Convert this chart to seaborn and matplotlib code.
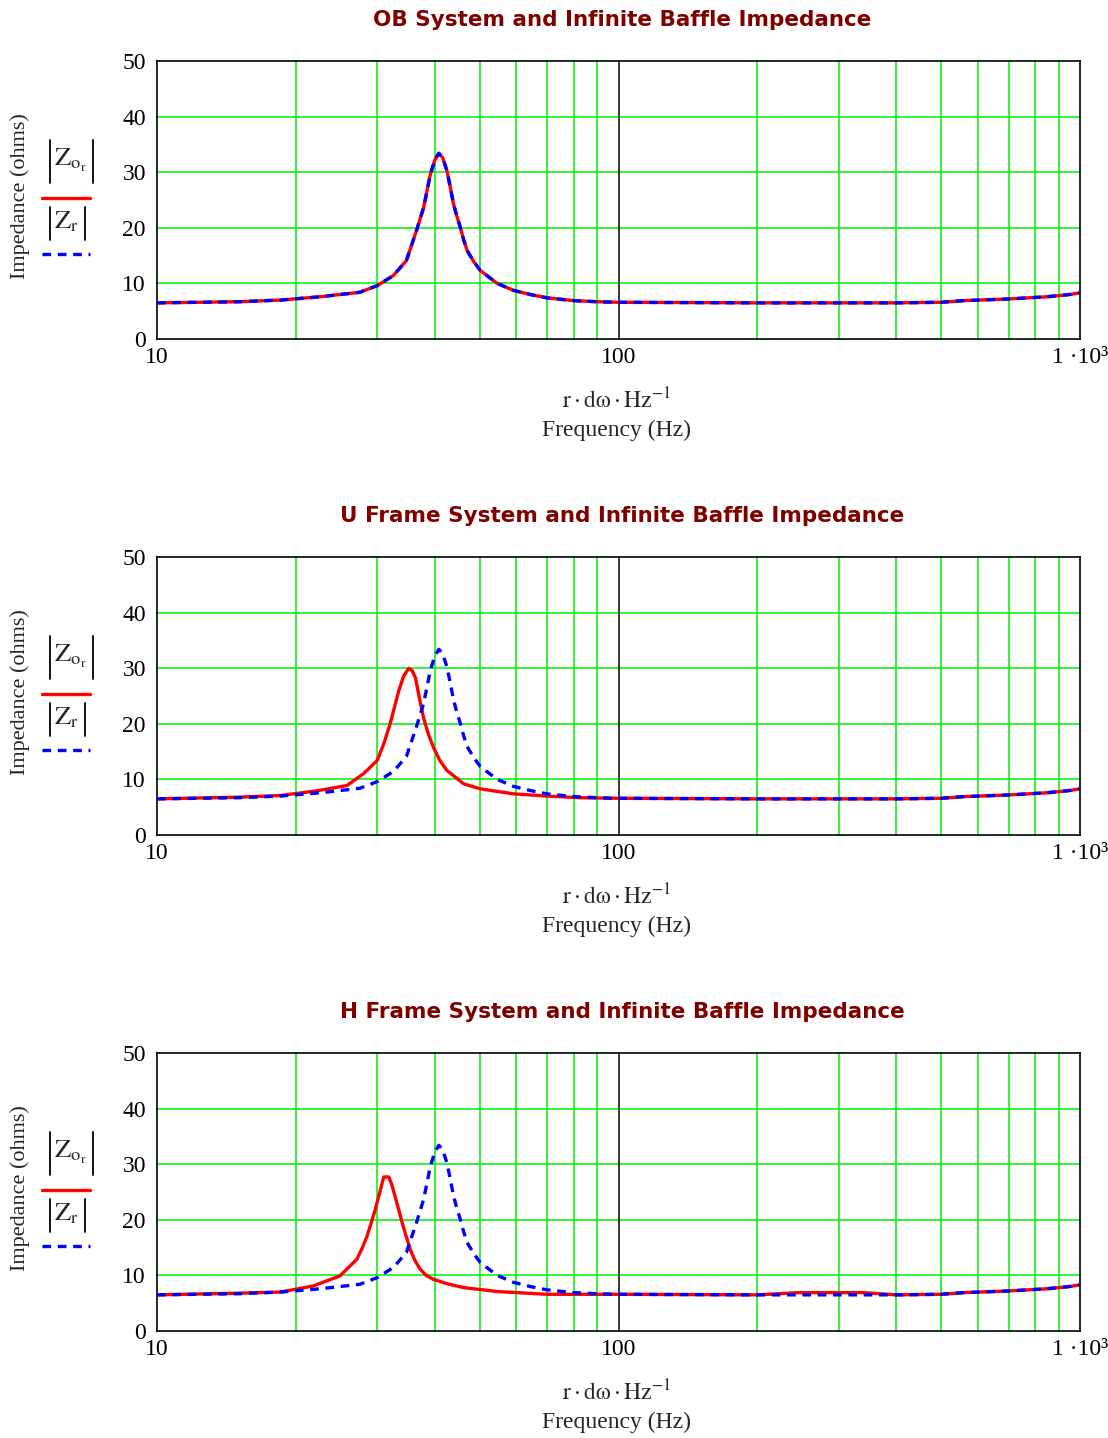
import matplotlib
matplotlib.use("Agg")
import matplotlib.pyplot as plt
import seaborn as sns
from matplotlib.lines import Line2D

# infinite baffle impedance (blue dashed, same in every panel)
f_ib = [10, 15, 18.5, 22.6, 27.5, 30, 32.5, 34.7, 36.5, 37.8, 38.5, 39.1, 40.0, 40.8, 41.6, 42.5,
        43.2, 43.9, 44.6, 45.4, 46.2, 47, 48.5, 50.2, 54.6, 59.2, 64.4, 70, 80, 90, 100, 200, 300,
        400, 500, 560, 700, 850, 950, 1000]
z_ib = [6.5, 6.7, 7.0, 7.6, 8.4, 9.6, 11.4, 14.1, 19.5, 23.6, 26.8, 29.6, 32.2, 33.4, 32.6, 30.2,
        27.3, 24.3, 22.2, 20.1, 17.8, 15.9, 14.0, 12.3, 10.0, 8.75, 8.0, 7.4, 6.9, 6.7, 6.6, 6.5, 6.5,
        6.5, 6.6, 6.9, 7.2, 7.6, 8.0, 8.3]

# OB system (red)
f_ob = [10, 15, 18.5, 22.6, 27.5, 30, 32.5, 34.7, 36.5, 37.8, 38.5, 39.1, 40.0, 40.8, 41.6, 42.5,
        43.2, 43.9, 44.6, 45.4, 46.2, 47, 48.5, 50.2, 54.6, 59.2, 64.4, 70, 80, 90, 100, 200, 300,
        400, 500, 560, 700, 850, 950, 1000]
z_ob = [6.5, 6.7, 7.0, 7.6, 8.4, 9.6, 11.4, 14.1, 19.5, 23.6, 26.8, 29.6, 32.2, 33.4, 32.6, 30.2,
        27.3, 24.3, 22.2, 20.1, 17.8, 15.9, 14.0, 12.3, 10.0, 8.75, 8.0, 7.4, 6.9, 6.7, 6.6, 6.5, 6.5,
        6.5, 6.6, 6.9, 7.2, 7.6, 8.0, 8.3]

# U frame system (red)
f_u = [10, 15, 18.5, 22, 25.8, 28, 30, 31, 32, 32.7, 33.4, 34.2, 35.1, 35.7, 36.3, 37.0, 37.8,
       38.7, 39.7, 41, 42.5, 46.2, 50.2, 59.2, 70, 82.8, 100, 200, 300, 400, 500, 560, 700, 850,
       950, 1000]
z_u = [6.5, 6.8, 7.1, 7.9, 8.9, 11.0, 13.4, 16.4, 20.0, 23.0, 25.9, 28.5, 30.0, 29.6, 28.3, 24.8,
       21.1, 18.2, 15.8, 13.4, 11.6, 9.2, 8.3, 7.4, 7.0, 6.7, 6.6, 6.5, 6.5, 6.5, 6.6, 6.9, 7.2, 7.6,
       8.0, 8.3]

# H frame system (red)
f_h = [10, 15, 18.5, 21.8, 24.9, 27.1, 27.8, 28.5, 29.1, 29.7, 30.4, 31.0, 31.8, 32.3, 32.8, 33.4,
       34.0, 34.7, 35.4, 36.2, 37.2, 38.3, 39.7, 42.5, 46.2, 54.6, 70, 100, 200, 245, 340, 400,
       500, 560, 700, 850, 950, 1000]
z_h = [6.5, 6.8, 7.0, 8.1, 9.9, 12.9, 14.8, 17.0, 19.4, 21.8, 25.0, 27.7, 27.7, 26.2, 24.2, 21.8,
       19.4, 16.9, 14.6, 12.7, 11.1, 10.0, 9.3, 8.5, 7.8, 7.1, 6.6, 6.6, 6.5, 6.9, 6.9, 6.5, 6.6,
       6.9, 7.2, 7.6, 8.0, 8.3]

titles = ["OB System and Infinite Baffle Impedance",
          "U Frame System and Infinite Baffle Impedance",
          "H Frame System and Infinite Baffle Impedance"]
red_f = [f_ob, f_u, f_h]
red_z = [z_ob, z_u, z_h]

y_ticks = [0, 10, 20, 30, 40, 50]
x_ticks = [10, 100, 1000]
x_ticklabels = ["10", "100", "1 \u00b710\u00b3"]
grid_x = [20, 30, 40, 50, 60, 70, 80, 90, 200, 300, 400, 500, 600, 700, 800, 900]

sns.set_style("white")
plt.rcParams['font.family'] = ['Liberation Serif', 'DejaVu Serif']
plt.rcParams['mathtext.fontset'] = 'stix'

W, H = 1108, 1438
fig = plt.figure(figsize=(W / 100, H / 100), dpi=100)


def fx(x):
    return x / W


def fy(y):
    return 1 - y / H


def bar(x, y0, y1, color="black", lw=1.3):
    fig.add_artist(Line2D([fx(x), fx(x)], [fy(y0), fy(y1)], color=color, lw=lw))


tops = [61, 557, 1053]
for i in range(3):
    top = tops[i]
    ax = fig.add_axes([fx(157), fy(top + 278), fx(1080) - fx(157), 278 / H])
    ax.set_xscale("log")
    ax.set_xlim(10, 1000)
    ax.set_ylim(0, 50)
    for g in grid_x:
        ax.axvline(g, color="#00ee00", lw=1.1, zorder=1)
    for g in [10, 20, 30, 40]:
        ax.axhline(g, color="#00ee00", lw=1.1, zorder=1)
    ax.axvline(100, color="black", lw=1.1, zorder=1)

    sns.lineplot(x=red_f[i], y=red_z[i], ax=ax, color="#ff0000", lw=2.4,
                 errorbar=None, zorder=3)
    sns.lineplot(x=f_ib, y=z_ib, ax=ax, color="#0000ff", lw=2.4,
                 linestyle=(0, (2.6, 2.0)), errorbar=None, zorder=4)

    ax.set_xticks(x_ticks)
    ax.set_xticklabels(x_ticklabels)
    ax.set_xticks([], minor=True)
    ax.set_yticks(y_ticks)
    ax.tick_params(axis="both", length=0, labelsize=17, colors="black")
    ax.tick_params(axis="y", pad=8)
    ax.tick_params(axis="x", pad=6)
    for s in ax.spines.values():
        s.set_color("black")
        s.set_linewidth(1.2)
    ax.set_xlabel("")
    ax.set_ylabel("")

    fig.text(fx(622), fy(top - 41), titles[i], ha="center", va="center",
             fontsize=15.5, fontweight="bold", color="#800000", family="DejaVu Sans")
    fig.text(fx(20), fy(top + 135), "Impedance (ohms)", rotation=90,
             ha="center", va="center", fontsize=16)

    # legend-like labels at the left, Mathcad style
    bar(50, top + 79, top + 122)
    bar(93, top + 79, top + 122)
    fig.text(fx(54), fy(top + 99), r"$\mathrm{Z}_{\mathrm{o}_{\mathrm{r}}}$",
             ha="left", va="center", fontsize=19)
    fig.add_artist(Line2D([fx(42), fx(90)], [fy(top + 137), fy(top + 137)],
                          color="#ff0000", lw=2.4))
    bar(50, top + 146, top + 179)
    bar(85, top + 146, top + 179)
    fig.text(fx(54), fy(top + 161), r"$\mathrm{Z}_{\mathrm{r}}$",
             ha="left", va="center", fontsize=19)
    fig.add_artist(Line2D([fx(42), fx(90)], [fy(top + 193), fy(top + 193)],
                          color="#0000ff", lw=2.4, linestyle=(0, (2.6, 2.0))))

    fig.text(fx(617), fy(top + 340), r"$\mathrm{r\cdot d\omega\cdot Hz}^{-1}$",
             ha="center", va="center", fontsize=17)
    fig.text(fx(616), fy(top + 369), "Frequency (Hz)", ha="center",
             va="center", fontsize=17)

fig.savefig("out.png", dpi=100, facecolor="white")
